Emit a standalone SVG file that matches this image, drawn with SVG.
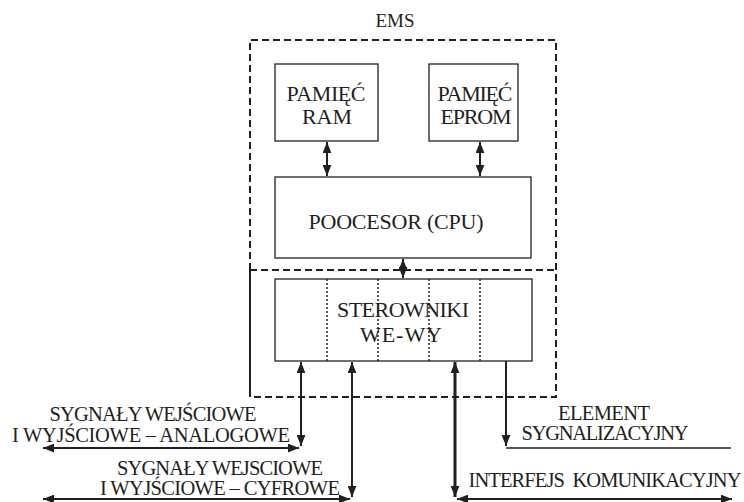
<svg xmlns="http://www.w3.org/2000/svg" width="744" height="502" viewBox="0 0 744 502">
<style>
text{font-family:"Liberation Serif","DejaVu Serif",serif;fill:#231f20;text-anchor:middle}
.lbl{font-size:22px}
.sm{font-size:20.5px}
.box{fill:none;stroke:#231f20;stroke-width:1.3}
.dash{fill:none;stroke:#231f20;stroke-width:2;stroke-dasharray:7 4}
.dot{stroke:#231f20;stroke-width:1.5;stroke-dasharray:2 2}
.arr{fill:none;stroke:#231f20;stroke-width:2}
.thick{stroke-width:3}
.thin{fill:none;stroke:#231f20;stroke-width:1.3}
</style>
<defs>
<marker id="ah" viewBox="0 0 10 8" refX="10" refY="4" markerWidth="11" markerHeight="9" markerUnits="userSpaceOnUse" orient="auto-start-reverse">
<path d="M0,0 L10,4 L0,8 z" fill="#231f20"/>
</marker>
</defs>
<g id="ems">
<text x="395" y="27" style="font-size:19px">EMS</text>
<path class="dash" d="M250,270 V40 H556 V397 H250"/>
<path class="dash" d="M250,270 H556"/>
<path class="arr" d="M250,270 V397"/>
</g>
<g id="ram">
<rect class="box" x="275" y="64" width="103" height="77"/>
<text class="lbl" x="326" y="101" textLength="79">PAMIĘĆ</text>
<text class="lbl" x="327" y="124" textLength="50">RAM</text>
</g>
<g id="eprom">
<rect class="box" x="429" y="64" width="89" height="77"/>
<text class="lbl" x="475" y="101" textLength="75">PAMIĘĆ</text>
<text class="lbl" x="476" y="124" textLength="71">EPROM</text>
</g>
<g id="cpu">
<rect class="box" x="275" y="177" width="256" height="81"/>
<text class="lbl" x="396" y="229" textLength="175">POOCESOR (CPU)</text>
</g>
<g id="io">
<rect class="box" x="275" y="279" width="257" height="82"/>
<path class="dot" d="M327,279 V361 M378,279 V361 M429,279 V361 M480,279 V361"/>
<text class="lbl" x="403" y="317" textLength="132">STEROWNIKI</text>
<text class="lbl" x="401" y="342" textLength="82">WE-WY</text>
</g>
<g id="connectors">
<path class="arr" d="M327,142 V176" marker-start="url(#ah)" marker-end="url(#ah)"/>
<path class="arr" d="M480,142 V176" marker-start="url(#ah)" marker-end="url(#ah)"/>
<path class="arr" d="M403,259 V278" marker-start="url(#ah)" marker-end="url(#ah)"/>
<path class="arr" d="M301,362 V446" marker-start="url(#ah)" marker-end="url(#ah)"/>
<path class="arr" d="M43,448 H299" marker-start="url(#ah)" marker-end="url(#ah)"/>
<path class="arr" d="M352,362 V497" marker-start="url(#ah)" marker-end="url(#ah)"/>
<path class="arr" d="M43,499 H350" marker-start="url(#ah)" marker-end="url(#ah)"/>
<path class="arr thick" d="M455,362 V497" marker-start="url(#ah)" marker-end="url(#ah)"/>
<path class="arr" d="M457,499 H732" marker-start="url(#ah)" marker-end="url(#ah)"/>
<path class="arr" d="M506,361 V446" marker-end="url(#ah)"/>
<path class="thin" d="M506,448 H731"/>
</g>
<g id="labels">
<text class="sm" x="153" y="421" textLength="207">SYGNAŁY WEJŚCIOWE</text>
<text class="sm" x="151" y="442" textLength="278">I WYJŚCIOWE – ANALOGOWE</text>
<text class="sm" x="220" y="475" textLength="206">SYGNAŁY WEJSCIOWE</text>
<text class="sm" x="220" y="495" textLength="240">I WYJŚCIOWE – CYFROWE</text>
<text class="sm" x="604" y="420" textLength="92">ELEMENT</text>
<text class="sm" x="605" y="440" textLength="167">SYGNALIZACYJNY</text>
<text class="sm" x="605" y="487" textLength="273" style="white-space:pre">INTERFEJS  KOMUNIKACYJNY</text>
</g>
</svg>
